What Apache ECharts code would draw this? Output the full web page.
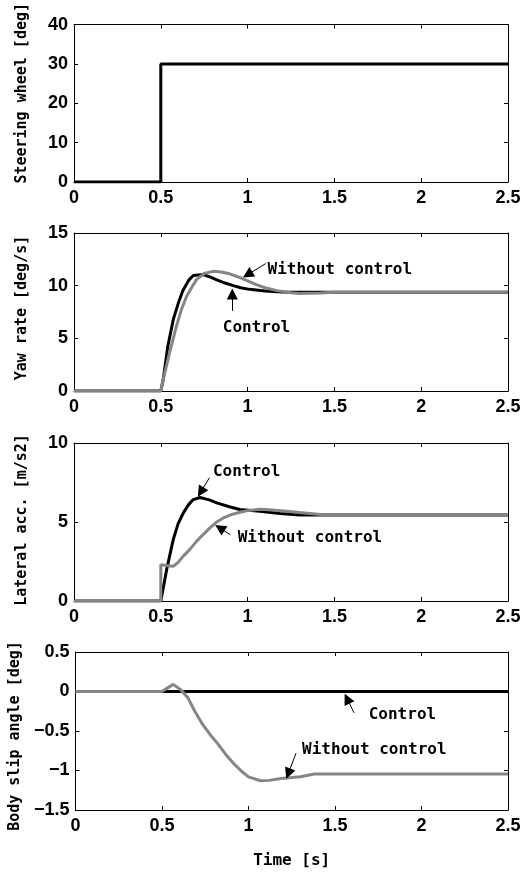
<!DOCTYPE html>
<html>
<head>
<meta charset="utf-8">
<script src="https://cdn.jsdelivr.net/npm/echarts@6/dist/echarts.min.js"></script>
<style>
  html, body { margin: 0; padding: 0; background: #fff; }
  #chart { width: 529px; height: 876px; }
</style>
</head>
<body>
<div id="chart"></div>
<script>
// ---- data ----
var timeTicks = [0, 0.5, 1, 1.5, 2, 2.5];

var steerTicks = [0, 10, 20, 30, 40];
var steerT = [0, 0.5, 0.5, 2.5];
var steerV = [0, 0, 30, 30];

var yawTicks = [0, 5, 10, 15];
var yawCtrlT = [0, 0.5, 0.514, 0.54, 0.572, 0.6, 0.626, 0.66, 0.687, 0.745, 0.78, 0.822, 0.87, 0.918, 0.96, 1.01, 1.1, 1.2, 1.3, 2.5];
var yawCtrlV = [0, 0, 1.1, 4.2, 6.8, 8.3, 9.5, 10.5, 10.96, 11.05, 10.85, 10.55, 10.25, 10.0, 9.8, 9.65, 9.5, 9.4, 9.38, 9.38];
var yawFreeT = [0, 0.5, 0.514, 0.55, 0.59, 0.62, 0.649, 0.68, 0.707, 0.75, 0.8, 0.85, 0.9, 0.95, 1.0, 1.05, 1.1, 1.17, 1.25, 1.3, 1.42, 1.5, 2.5];
var yawFreeV = [0, 0, 1.1, 3.6, 6.15, 7.8, 9.0, 9.9, 10.6, 11.15, 11.36, 11.3, 11.1, 10.8, 10.45, 10.1, 9.8, 9.53, 9.32, 9.25, 9.3, 9.38, 9.38];

var accTicks = [0, 5, 10];
var accCtrlT = [0, 0.5, 0.505, 0.534, 0.572, 0.6, 0.63, 0.66, 0.687, 0.726, 0.78, 0.822, 0.9, 0.956, 1.07, 1.187, 1.3, 2.5];
var accCtrlV = [0, 0, 0.1, 2.0, 3.9, 4.9, 5.58, 6.1, 6.42, 6.55, 6.4, 6.21, 5.95, 5.79, 5.68, 5.54, 5.45, 5.45];
var accFreeT = [0, 0.5, 0.5, 0.53, 0.572, 0.6, 0.63, 0.67, 0.707, 0.745, 0.783, 0.82, 0.86, 0.91, 0.956, 1.0, 1.07, 1.12, 1.225, 1.3, 1.45, 2.5];
var accFreeV = [0, 0, 2.3, 2.25, 2.2, 2.45, 2.84, 3.3, 3.79, 4.22, 4.63, 4.98, 5.26, 5.48, 5.62, 5.72, 5.8, 5.78, 5.68, 5.6, 5.45, 5.45];

var slipTicks = [-1.5, -1, -0.5, 0, 0.5];
var slipCtrlT = [0, 2.5];
var slipCtrlV = [0, 0];
var slipFreeT = [0, 0.5, 0.565, 0.61, 0.65, 0.69, 0.73, 0.78, 0.822, 0.87, 0.918, 0.96, 1.0, 1.07, 1.12, 1.187, 1.25, 1.3, 1.38, 2.5];
var slipFreeV = [0, 0, 0.09, 0.02, -0.08, -0.25, -0.40, -0.55, -0.66, -0.80, -0.92, -1.01, -1.08, -1.13, -1.125, -1.10, -1.09, -1.08, -1.045, -1.045];

var panelNames = ['Steering wheel [deg]', 'Yaw rate [deg/s]', 'Lateral acc. [m/s2]', 'Body slip angle [deg]'];

// annotations: text anchor (left, middle) and arrow from -> to, in data units
var yawNotes = [
  { text: 'Without control', at: [1.115, 11.5], from: [1.105, 12.1], to: [1.0, 11.05] },
  { text: 'Control', at: [0.857, 6.0], from: [0.912, 7.6], to: [0.912, 9.2] }
];
var accNotes = [
  { text: 'Control', at: [0.8, 8.2], from: [0.78, 7.8], to: [0.73, 6.9] },
  { text: 'Without control', at: [0.943, 4.0], from: [0.9, 4.2], to: [0.84, 4.62] }
];
var slipNotes = [
  { text: 'Control', at: [1.695, -0.296], from: [1.61, -0.27], to: [1.57, -0.09] },
  { text: 'Without control', at: [1.31, -0.74], from: [1.275, -0.78], to: [1.23, -1.04] }
];

// ---- styles ----
var BLACK = '#000000';
var GRAY = '#858585';
var labelFont = 'Liberation Sans, Arial, sans-serif';
var textFont = 'DejaVu Sans Mono, monospace';

var panels = [
  { top: 22, height: 160, ticks: steerTicks, series: [[steerT, steerV, BLACK]], notes: [], namePad: [0, 0, 0, 20] },
  { top: 233, height: 158, ticks: yawTicks, series: [[yawCtrlT, yawCtrlV, BLACK], [yawFreeT, yawFreeV, GRAY]], notes: yawNotes, namePad: [0, 0, 0, 8] },
  { top: 443, height: 158, ticks: accTicks, series: [[accCtrlT, accCtrlV, BLACK], [accFreeT, accFreeV, GRAY]], notes: accNotes, namePad: [0, 0, 0, 4] },
  { top: 652, height: 158, ticks: slipTicks, series: [[slipCtrlT, slipCtrlV, BLACK], [slipFreeT, slipFreeV, GRAY]], notes: slipNotes, namePad: [0, 10, 0, 0] }
];

function zip(t, v) {
  return t.map(function (x, i) { return [x, v[i]] })
}
function minusSign(val) {
  return String(val).replace('-', '\u2212')
}

var grid = [], xAxis = [], yAxis = [], series = [];

panels.forEach(function (p, k) {
  grid.push({ left: 74, top: p.top, width: 434, height: p.height, show: false });

  var axisLine = { show: true, onZero: false, lineStyle: { color: BLACK, width: 1 } };
  var axisTick = { show: true, inside: true, length: 4, lineStyle: { color: BLACK, width: 1 } };
  var xMin = timeTicks[0], xMax = timeTicks[timeTicks.length - 1];
  var yMin = p.ticks[0], yMax = p.ticks[p.ticks.length - 1];
  var yStep = p.ticks[1] - p.ticks[0];

  // bottom (labelled) and top (ticks only) x axes
  xAxis.push({
    type: 'value', gridIndex: k, position: 'bottom', min: xMin, max: xMax, interval: timeTicks[1] - timeTicks[0],
    axisLine: axisLine, axisTick: axisTick, splitLine: { show: false },
    axisLabel: { color: BLACK, fontFamily: labelFont, fontSize: 18, fontWeight: 'bold', margin: 7 },
    name: k === 3 ? 'Time [s]' : '', nameLocation: 'middle', nameGap: 43,
    nameTextStyle: { color: BLACK, fontFamily: textFont, fontSize: 16, fontWeight: 'bold' }
  });
  xAxis.push({
    type: 'value', gridIndex: k, position: 'top', min: xMin, max: xMax, interval: timeTicks[1] - timeTicks[0],
    axisLine: axisLine, axisTick: axisTick, splitLine: { show: false }, axisLabel: { show: false }
  });
  // left (labelled) and right (ticks only) y axes
  yAxis.push({
    type: 'value', gridIndex: k, position: 'left', min: yMin, max: yMax, interval: yStep,
    axisLine: axisLine, axisTick: axisTick, splitLine: { show: false },
    axisLabel: { color: BLACK, fontFamily: labelFont, fontSize: 18, fontWeight: 'bold', margin: 6, formatter: minusSign },
    name: panelNames[k], nameLocation: 'middle', nameRotate: 90, nameGap: 44,
    nameTextStyle: { color: BLACK, fontFamily: textFont, fontSize: 15, fontWeight: 'bold', padding: p.namePad }
  });
  yAxis.push({
    type: 'value', gridIndex: k, position: 'right', min: yMin, max: yMax, interval: yStep,
    axisLine: axisLine, axisTick: axisTick, splitLine: { show: false }, axisLabel: { show: false }
  });

  p.series.forEach(function (s, j) {
    var item = {
      type: 'line', xAxisIndex: 2 * k, yAxisIndex: 2 * k, data: zip(s[0], s[1]),
      showSymbol: false, symbol: 'none', silent: true, z: 2 + j,
      lineStyle: { color: s[2], width: 3 }
    };
    if (j === p.series.length - 1 && p.notes.length) {
      item.markLine = {
        silent: true, symbol: ['none', 'triangle'], symbolSize: 11,
        label: { show: false },
        lineStyle: { color: BLACK, width: 1, type: 'solid' },
        itemStyle: { color: BLACK },
        data: p.notes.map(function (n) { return [{ coord: n.from }, { coord: n.to }] })
      };
      item.markPoint = {
        silent: true, symbol: 'circle', symbolSize: 0,
        data: p.notes.map(function (n) {
          return {
            coord: n.at,
            label: { show: true, position: 'right', distance: 0, formatter: n.text, color: BLACK, fontFamily: textFont, fontSize: 16, fontWeight: 'bold' }
          }
        })
      };
    }
    series.push(item);
  });
});

var myChart = echarts.init(document.getElementById('chart'), null, { renderer: 'canvas' });
myChart.setOption({
  animation: false,
  backgroundColor: '#ffffff',
  grid: grid,
  xAxis: xAxis,
  yAxis: yAxis,
  series: series
});
</script>
</body>
</html>
